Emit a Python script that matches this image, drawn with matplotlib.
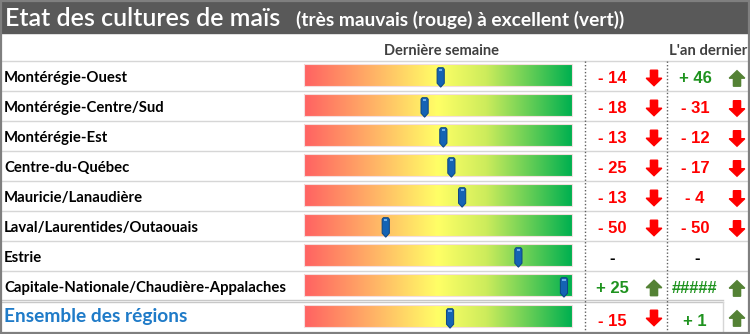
import numpy as np
import matplotlib
matplotlib.use("Agg")
import matplotlib.pyplot as plt
from matplotlib.colors import LinearSegmentedColormap
from matplotlib.patches import Polygon, Rectangle

plt.rcParams['font.family'] = ['Lato', 'DejaVu Sans']
NUMFONT = ['Liberation Sans', 'DejaVu Sans']

# data
regions = ['Montérégie-Ouest', 'Montérégie-Centre/Sud', 'Montérégie-Est',
           'Centre-du-Québec', 'Mauricie/Lanaudière', 'Laval/Laurentides/Outaouais',
           'Estrie', 'Capitale-Nationale/Chaudière-Appalaches', 'Ensemble des régions']
scores = [51, 45, 52, 55, 59, 30.5, 80, 97, 54.5]      # 0 = très mauvais, 100 = excellent
last_week = [-14, -18, -13, -25, -13, -50, None, 25, -15]
last_year = [46, -31, -12, -17, -4, -50, None, '#####', 1]
year_dir = [1, -1, -1, -1, -1, -1, 0, 1, 1]

title = 'Etat des cultures de maïs'
subtitle = '(très mauvais (rouge) à excellent (vert))'

W, H = 750, 334
fig = plt.figure(figsize=(W / 100, H / 100), dpi=100)
ax = fig.add_axes([0, 0, 1, 1])

cmap = LinearSegmentedColormap.from_list('etat', [
    (0.0, '#ff6262'), (0.25, '#ffb066'), (0.5, '#ffff66'),
    (0.68, '#cdec5c'), (1.0, '#00b050')])
grad = np.linspace(0, 1, 256).reshape(1, -1)

RED, GREEN, GARROW = '#ff0000', '#1f931f', '#548235'

# title bar
ax.add_patch(Rectangle((0, 0), W, 33, color='#595959', zorder=1))
ax.text(5, 26, title, color='white', fontsize=18, fontweight='semibold', va='baseline', zorder=3)
ax.text(296, 26, subtitle, color='white', fontsize=13.8, fontweight='bold',
        va='baseline', zorder=3)

ax.text(441, 55, 'Dernière semaine', color='#404040', fontsize=10.5,
        fontweight='bold', ha='center', va='baseline')
ax.text(747, 55, "L'an dernier", color='#404040', fontsize=10.7,
        fontweight='bold', ha='right', va='baseline')

bx0, bx1 = 304, 572
tops = [60.7 + 30 * i for i in range(9)]
bots = tops[1:] + [333]


def arrow(cx, top, up, color):
    sw, hw, hh, h = 3.6, 7.8, 7.5, 15.5
    if up:
        pts = [(cx, top), (cx + hw, top + hh), (cx + sw, top + hh), (cx + sw, top + h),
               (cx - sw, top + h), (cx - sw, top + hh), (cx - hw, top + hh)]
    else:
        pts = [(cx - sw, top), (cx + sw, top), (cx + sw, top + h - hh), (cx + hw, top + h - hh),
               (cx, top + h), (cx - hw, top + h - hh), (cx - sw, top + h - hh)]
    ax.add_patch(Polygon(pts, closed=True, color=color, zorder=4))


def fmt(v):
    if isinstance(v, str):
        return v
    return ('+ ' if v > 0 else '- ') + str(abs(v))


for i, name in enumerate(regions):
    t, b = tops[i], bots[i]
    last = i == len(regions) - 1
    base = b - (11 if last else 8.5)
    if last:
        ax.text(4, base, name, color='#1f7bc8', fontsize=13.8, fontweight='bold', va='baseline')
    else:
        ax.text(4, base, name, color='black', fontsize=10.7, fontweight='bold', va='baseline')

    # gradient bar
    yt, yb = t + 3.5, t + 25.5
    if last:
        yt, yb = t + 4.5, t + 26.5
    ax.imshow(grad, cmap=cmap, extent=(bx0, bx1, yb, yt), aspect='auto',
              interpolation='bilinear', zorder=2)
    ax.add_patch(Rectangle((bx0, yt), bx1 - bx0, yb - yt, fill=False,
                           ec='#f3dede', lw=0.8, zorder=2.5))

    # marker
    c = bx0 + scores[i] / 100 * (bx1 - bx0)
    mt, mb = yt + 3.5, yb + 1
    pts = [(c - 3.6, mt + 1.5), (c - 2.4, mt), (c + 2.4, mt), (c + 3.6, mt + 1.5),
           (c + 3.6, mb - 4), (c, mb), (c - 3.6, mb - 4)]
    ax.add_patch(Polygon(pts, closed=True, fc='#1463b4', ec='#0c4584', lw=0.7, zorder=5))
    ax.add_patch(Rectangle((c - 1.6, mt + 0.8), 3.2, 2, color='#6fb0ec', lw=0, zorder=6))

    # last week change
    v = last_week[i]
    nb = b - (6.5 if last else 7.5)
    if v is None:
        ax.text(612, nb, '-', color='black', fontsize=12, fontweight='bold',
                family=NUMFONT, ha='center', va='baseline')
    else:
        ax.text(612, nb, fmt(v), color=RED if v < 0 else GREEN, fontsize=12,
                fontweight='bold', family=NUMFONT, ha='center', va='baseline')
        arrow(654, t + 9.5, v > 0, RED if v < 0 else GARROW)

    # last year change
    v = last_year[i]
    if v is None:
        ax.text(697, nb, '-', color='black', fontsize=12, fontweight='bold',
                family=NUMFONT, ha='center', va='baseline')
    else:
        col = GREEN if year_dir[i] > 0 else RED
        ax.text(695, nb, fmt(v), color=col, fontsize=12, fontweight='bold',
                family=NUMFONT, ha='center', va='baseline')
        arrow(737, t + 10, year_dir[i] > 0, RED if year_dir[i] < 0 else GARROW)

# grid lines
for y in tops[:-1]:
    ax.plot([0, W], [y, y], color='#d6d6d6', lw=1, zorder=1)
ax.plot([0, 723], [299.5, 299.5], color='#c8c8c8', lw=1, zorder=1)
ax.plot([0, 723], [301.7, 301.7], color='#c8c8c8', lw=1, zorder=1)
ax.plot([723, 723], [301.7, 333], color='#d6d6d6', lw=1, zorder=1)
for x in (585, 667):
    ax.plot([x, x], [61, 334], color='#606060', lw=1, ls=(0, (1, 1.5)), zorder=1)

# outer frame
ax.add_patch(Rectangle((0.8, 0.8), W - 1.6, H - 1.6, fill=False, ec='#7f7f7f', lw=1.6, zorder=7))

ax.set_xlim(0, W)
ax.set_ylim(H, 0)
ax.axis('off')
fig.savefig('out.png', dpi=100)
